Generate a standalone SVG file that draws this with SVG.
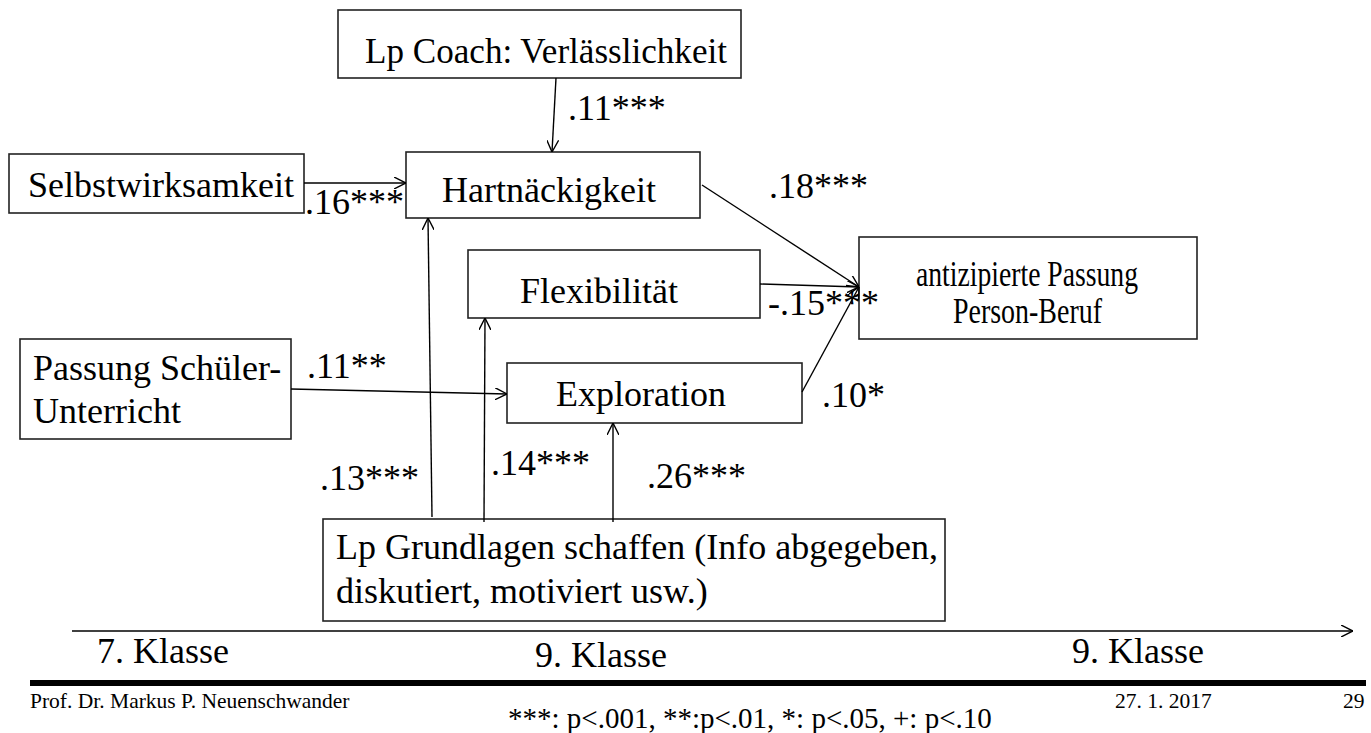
<svg xmlns="http://www.w3.org/2000/svg" width="1371" height="733" viewBox="0 0 1371 733">
<defs>
<style>
.box{fill:#fff;stroke:#222;stroke-width:1.6}
.t{font-family:"Liberation Serif","Times New Roman",serif;font-size:36px;fill:#000}
.lbl{font-family:"Liberation Serif","Times New Roman",serif;font-size:36px;fill:#000}
.ft{font-family:"Liberation Serif","Times New Roman",serif;font-size:21.5px;fill:#000}
.c{fill:none;stroke:#000;stroke-width:1.4}
</style>
<marker id="ah" viewBox="0 0 12 12" refX="12" refY="6" markerWidth="12" markerHeight="12" markerUnits="userSpaceOnUse" orient="auto">
<path d="M0,0 L12,6 L0,12" fill="none" stroke="#000" stroke-width="1.4"/>
</marker>
</defs>
<rect width="1371" height="733" fill="#fff"/>

<g id="coach"><rect class="box" x="338" y="10" width="403" height="68"/><text class="t" x="365" y="63" textLength="362" lengthAdjust="spacingAndGlyphs">Lp Coach: Verlässlichkeit</text></g>
<g id="selbst"><rect class="box" x="9" y="154" width="295" height="59"/><text class="t" x="28" y="197">Selbstwirksamkeit</text></g>
<g id="hart"><rect class="box" x="406" y="152" width="294" height="66"/><text class="t" x="442" y="202">Hartnäckigkeit</text></g>
<g id="flex"><rect class="box" x="468" y="250" width="292" height="68"/><text class="t" x="520" y="303">Flexibilität</text></g>
<g id="expl"><rect class="box" x="507" y="363" width="295" height="60"/><text class="t" x="556" y="406">Exploration</text></g>
<g id="passung"><rect class="box" x="20" y="339" width="271" height="100"/><text class="t" x="33" y="380">Passung Schüler-</text><text class="t" x="33" y="423">Unterricht</text></g>
<g id="anti"><rect class="box" x="859" y="237" width="338" height="102"/><text class="t" x="916" y="286" textLength="222" lengthAdjust="spacingAndGlyphs">antizipierte Passung</text><text class="t" x="953" y="323" textLength="149" lengthAdjust="spacingAndGlyphs">Person-Beruf</text></g>
<g id="grund"><rect class="box" x="323" y="519" width="622" height="102"/><text class="t" x="336" y="559">Lp Grundlagen schaffen (Info abgegeben,</text><text class="t" x="336" y="603">diskutiert, motiviert usw.)</text></g>

<g id="connectors">
<line class="c" x1="556" y1="78" x2="552" y2="152" marker-end="url(#ah)"/>
<line class="c" x1="304" y1="183" x2="406" y2="183" marker-end="url(#ah)"/>
<line class="c" x1="702" y1="185" x2="859" y2="287" marker-end="url(#ah)"/>
<line class="c" x1="760" y1="284" x2="859" y2="287" marker-end="url(#ah)"/>
<line class="c" x1="802" y1="392" x2="859" y2="287" marker-end="url(#ah)"/>
<line class="c" x1="291" y1="389" x2="507" y2="394" marker-end="url(#ah)"/>
<line class="c" x1="432" y1="517" x2="428" y2="218" marker-end="url(#ah)"/>
<line class="c" x1="484" y1="522" x2="485" y2="318" marker-end="url(#ah)"/>
<line class="c" x1="613" y1="522" x2="613" y2="423" marker-end="url(#ah)"/>
<line class="c" x1="72" y1="631" x2="1353" y2="631" marker-end="url(#ah)"/>
</g>

<g id="labels">
<text class="lbl" x="568" y="120">.11***</text>
<text class="lbl" x="305" y="214">.16***</text>
<text class="lbl" x="769" y="198">.18***</text>
<text class="lbl" x="768" y="315">-.15***</text>
<text class="lbl" x="822" y="407">.10*</text>
<text class="lbl" x="307" y="378">.11**</text>
<text class="lbl" x="320" y="490">.13***</text>
<text class="lbl" x="491" y="475">.14***</text>
<text class="lbl" x="647" y="488">.26***</text>
</g>

<g id="timeline">
<text class="t" x="97" y="663">7. Klasse</text>
<text class="t" x="535" y="667">9. Klasse</text>
<text class="t" x="1072" y="663">9. Klasse</text>
</g>

<g id="footer">
<rect x="30" y="680" width="1336" height="6" fill="#000"/>
<text class="ft" x="30" y="708">Prof. Dr. Markus P. Neuenschwander</text>
<text class="ft" x="1115" y="708">27. 1. 2017</text>
<text class="ft" x="1343" y="708">29</text>
<text class="ft" x="508" y="728" style="font-size:29px">***: p&lt;.001, **:p&lt;.01, *: p&lt;.05, +: p&lt;.10</text>
</g>
</svg>
